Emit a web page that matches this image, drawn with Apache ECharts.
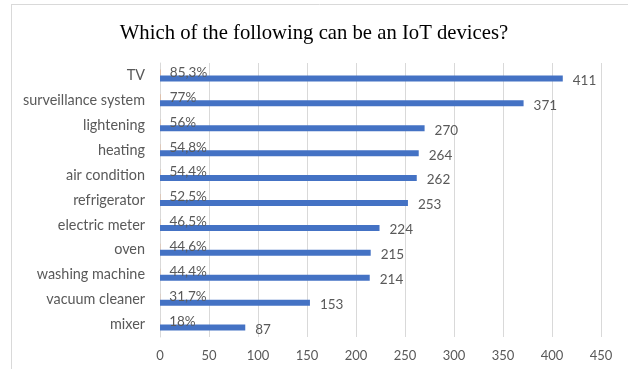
<!DOCTYPE html>
<html>
<head>
<meta charset="utf-8">
<script src="https://cdn.jsdelivr.net/npm/echarts@6/dist/echarts.min.js"></script>
<style>
  html, body { margin: 0; padding: 0; background: #ffffff; }
  #chart { width: 628px; height: 369px; }
</style>
</head>
<body>
<div id="chart"></div>
<script>
// Survey answers: which devices can be IoT devices
const categories = ['TV', 'surveillance system', 'lightening', 'heating', 'air condition',
  'refrigerator', 'electric meter', 'oven', 'washing machine', 'vacuum cleaner', 'mixer'];
const counts = [411, 371, 270, 264, 262, 253, 224, 215, 214, 153, 87];
const percents = [85.3, 77, 56, 54.8, 54.4, 52.5, 46.5, 44.6, 44.4, 31.7, 18];
const xTicks = { min: 0, max: 450, interval: 50 };

const labelGray = '#595959';
const gridGray = '#d9d9d9';
const labelFont = 'Lato, "Open Sans", sans-serif';

const chart = echarts.init(document.getElementById('chart'), null, { renderer: 'canvas' });

chart.setOption({
  animation: false,
  backgroundColor: '#ffffff',
  title: {
    text: 'Which of the following can be an IoT devices?',
    left: 'center',
    top: 18,
    textStyle: {
      fontFamily: '"Liberation Serif", "Times New Roman", serif',
      fontWeight: 'normal',
      fontSize: 20.7,
      color: '#000000'
    }
  },
  graphic: [
    // light frame around the chart area
    { type: 'line', shape: { x1: 11, y1: 4.5, x2: 628, y2: 4.5 }, style: { stroke: gridGray, lineWidth: 1 } },
    { type: 'line', shape: { x1: 11.5, y1: 4, x2: 11.5, y2: 369 }, style: { stroke: gridGray, lineWidth: 1 } }
  ],
  grid: { left: 160, right: 27, top: 63, bottom: 32, containLabel: false },
  xAxis: {
    type: 'value',
    min: xTicks.min,
    max: xTicks.max,
    interval: xTicks.interval,
    axisLine: { show: false },
    axisTick: { show: false },
    axisLabel: { color: labelGray, fontSize: 13, fontFamily: labelFont, margin: 12 },
    splitLine: { show: true, lineStyle: { color: gridGray, width: 1 } }
  },
  yAxis: {
    type: 'category',
    data: categories,
    inverse: true,
    axisLine: { show: true, lineStyle: { color: gridGray, width: 1 } },
    axisTick: { show: false },
    axisLabel: { color: labelGray, fontSize: 14.4, fontFamily: labelFont, margin: 15 }
  },
  series: [
    {
      name: 'share',
      type: 'bar',
      data: percents.map(p => p / 100),
      barWidth: 6,
      barGap: '0%',
      itemStyle: { color: 'rgba(237,125,49,0.35)' },
      label: {
        show: true,
        position: 'right',
        distance: 9,
        color: labelGray,
        fontSize: 13.5,
        fontFamily: labelFont,
        formatter: p => String(percents[p.dataIndex]).replace('.', ',') + '%'
      }
    },
    {
      name: 'answers',
      type: 'bar',
      data: counts,
      barWidth: 6,
      barGap: '0%',
      itemStyle: { color: '#4472C4' },
      label: {
        show: true,
        position: 'right',
        distance: 10,
        offset: [0, 2],
        color: labelGray,
        fontSize: 13.5,
        fontFamily: labelFont
      }
    }
  ]
});
</script>
</body>
</html>
